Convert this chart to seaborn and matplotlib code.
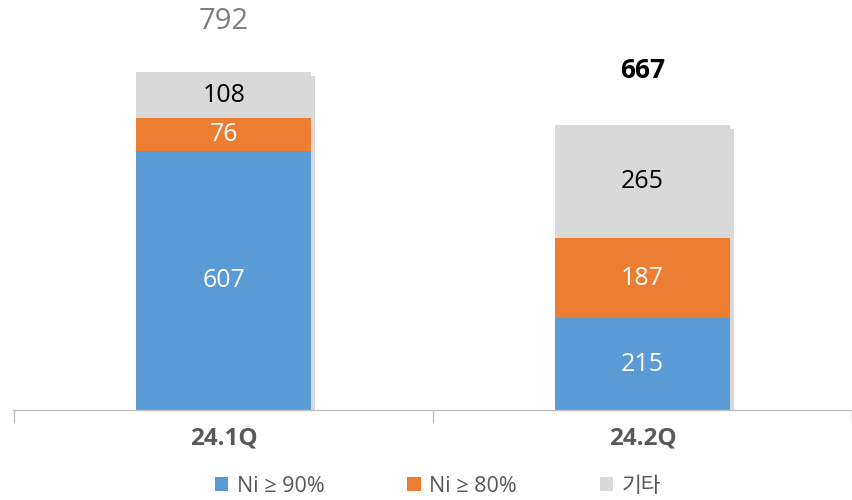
import matplotlib
matplotlib.use("Agg")
import matplotlib.pyplot as plt
import matplotlib.patheffects as pe
from matplotlib.patches import Patch
import seaborn as sns
import pandas as pd
import numpy as np

categories = ["24.1Q", "24.2Q"]
ni90 = [607, 215]
ni80 = [76, 187]
other = [108, 265]
totals = [792, 667]
series_names = ["Ni ≥ 90%", "Ni ≥ 80%", "기타"]
colors = ["#5B9BD5", "#ED7D31", "#D9D9D9"]

sns.set_theme(style="white")
plt.rcParams["font.family"] = ["Open Sans", "Noto Sans CJK KR", "DejaVu Sans"]

fig = plt.figure(figsize=(8.52, 5.0), dpi=100)
ax = fig.add_axes([13/852, 0.18, 1 - 13/852, 0.82])

cum1 = np.array(ni90)
cum2 = cum1 + np.array(ni80)
cum3 = cum2 + np.array(other)

df = pd.DataFrame({"cat": categories, "c1": cum1, "c2": cum2, "c3": cum3})
W = 0.418
sns.barplot(data=df, x="cat", y="c3", color=colors[2], width=W, saturation=1, ax=ax,
            order=categories, linewidth=0, edgecolor="none")
for p in ax.patches:
    p.set_path_effects([pe.SimplePatchShadow(offset=(2.5, -2.5), alpha=0.22, shadow_rgbFace="#555555"), pe.Normal()])
sns.barplot(data=df, x="cat", y="c2", color=colors[1], width=W, saturation=1, ax=ax,
            order=categories, linewidth=0, edgecolor="none")
sns.barplot(data=df, x="cat", y="c1", color=colors[0], width=W, saturation=1, ax=ax,
            order=categories, linewidth=0, edgecolor="none")

# segment labels
for i in range(len(categories)):
    segs = [(0, ni90[i], "white"), (cum1[i], ni80[i], "white"), (cum2[i], other[i], "black")]
    for b, h, c in segs:
        ax.text(i, b + h / 2, f"{h}", ha="center", va="center", fontsize=18, color=c)

ax.text(0, totals[0] + 118, f"{totals[0]}", ha="center", va="center", fontsize=21, color="#7F7F7F")
ax.text(1, totals[1] + 128, f"{totals[1]}", ha="center", va="center", fontsize=19, color="black", fontweight="bold")

ax.set_ylim(0, 960.6)
ax.set_xlim(-0.503, 1.48)
ax.set_xlabel("")
ax.set_ylabel("")
ax.set_yticks([])
for s in ["top", "right", "left"]:
    ax.spines[s].set_visible(False)
ax.spines["bottom"].set_color("#BFBFBF")
ax.spines["bottom"].set_linewidth(1.0)

ax.set_xticks([0, 1])
ax.set_xticklabels(categories, fontsize=17.5, fontweight="bold", color="#595959")
ax.set_xticks([-0.5, 0.5, 1.5], minor=True)
ax.tick_params(axis="x", which="major", bottom=False, length=0, pad=12)
ax.tick_params(axis="x", which="minor", bottom=True, length=9, color="#BFBFBF", width=1.0, direction="out")

handles = [Patch(facecolor=c, edgecolor="none") for c in colors]
leg = fig.legend(handles, series_names, loc="center", bbox_to_anchor=(0.514, 0.027), ncol=3,
                 frameon=False, fontsize=15.5, handlelength=0.62, handleheight=0.62,
                 handletextpad=0.4, columnspacing=3.85)
for t in leg.get_texts():
    t.set_color("#595959")

fig.savefig("out.png", dpi=100)
